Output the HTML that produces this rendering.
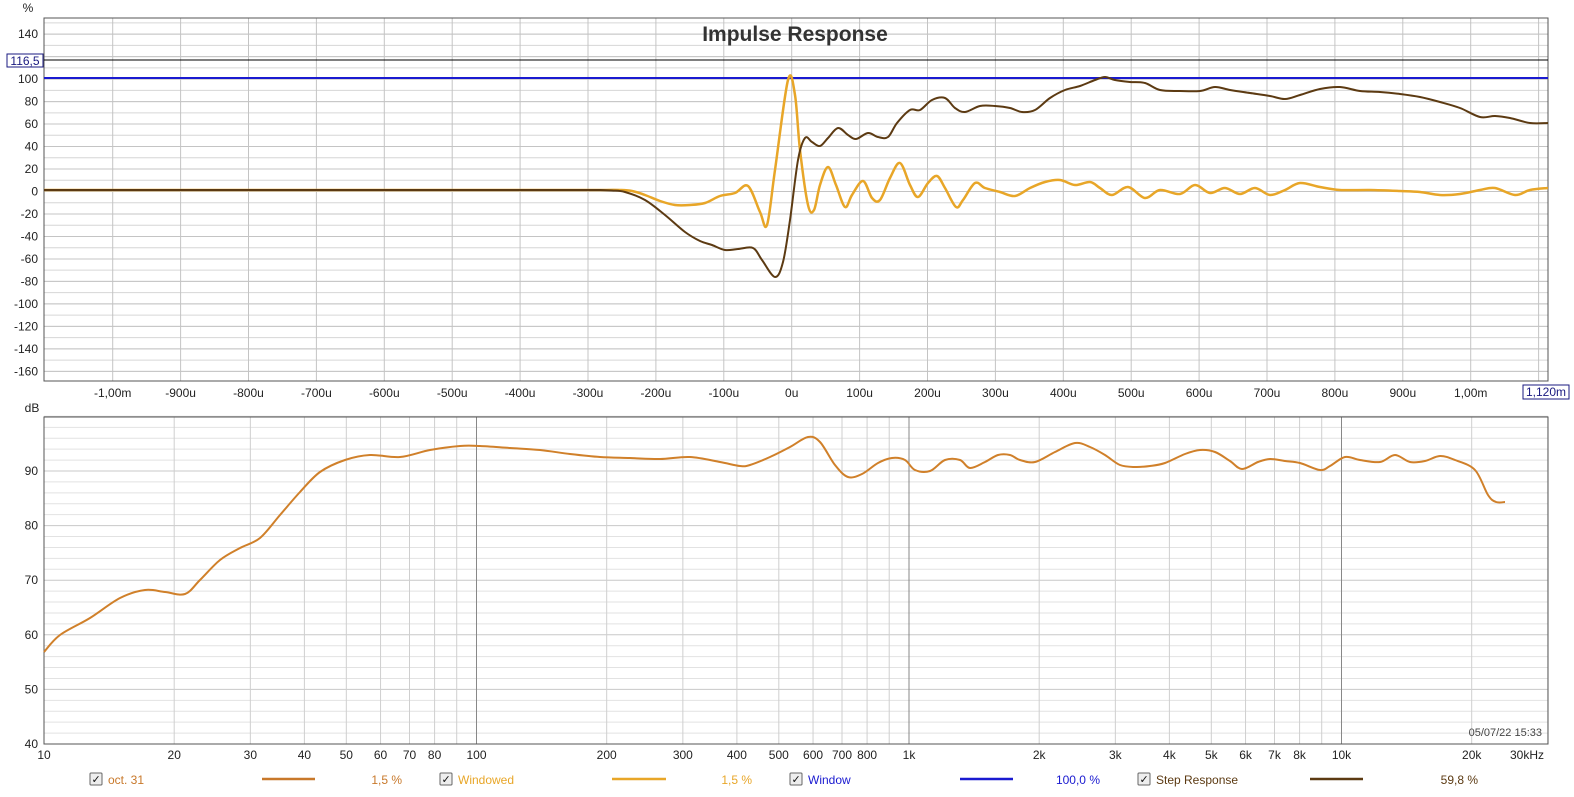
<!DOCTYPE html>
<html><head><meta charset="utf-8"><style>
html,body{margin:0;padding:0;background:#fff;}
svg{display:block;font-family:"Liberation Sans",sans-serif;}
</style></head><body>
<svg id="s" width="1574" height="797" xmlns="http://www.w3.org/2000/svg">
<g id="grid"></g>
<g id="data"></g>
<text x="795" y="41" text-anchor="middle" font-size="21" font-weight="bold" fill="#333">Impulse Response</text>
</svg>
<script>
const NS="http://www.w3.org/2000/svg";
const g=document.getElementById('grid'), d=document.getElementById('data');
function el(p,tag,a,txt){const e=document.createElementNS(NS,tag);for(const k in a)e.setAttribute(k,a[k]);if(txt!==undefined)e.textContent=txt;p.appendChild(e);return e;}
const L=44,R=1548,T1=18,B1=381,T2=417,B2=744;
el(g,'rect',{x:L,y:T1,width:R-L,height:B1-T1,fill:'#fff'});
const yv=v=>191.5-1.124*v;
for(let v=-160;v<=150;v+=10){el(g,'line',{x1:L,x2:R,y1:yv(v),y2:yv(v),stroke:'#d6d6d6','stroke-width':1});}
for(let v=-160;v<=140;v+=20){el(g,'line',{x1:L,x2:R,y1:yv(v),y2:yv(v),stroke:'#c4c4c4','stroke-width':1});
 if(v!=120) el(g,'text',{x:38,y:yv(v)+4,'text-anchor':'end','font-size':12,fill:'#222'},String(v));}
const xt=t=>791.7+0.679*t;
for(let t=-1000;t<=1100;t+=100){el(g,'line',{x1:xt(t),x2:xt(t),y1:T1,y2:B1,stroke:'#c4c4c4'});
 let lab=t==-1000?'-1,00m':t==1000?'1,00m':(t==1100?'':t+'u');
 if(lab) el(g,'text',{x:xt(t),y:397,'text-anchor':'middle','font-size':12,fill:'#222'},lab);}
el(g,'rect',{x:L,y:T1,width:R-L,height:B1-T1,fill:'none',stroke:'#555'});
el(g,'text',{x:28,y:12,'text-anchor':'middle','font-size':12,fill:'#222'},'%');
el(g,'line',{x1:L,x2:R,y1:60,y2:60,stroke:'#000'});
el(g,'line',{x1:L,x2:R,y1:78,y2:78,stroke:'#1a1ad0','stroke-width':2});
el(g,'rect',{x:7,y:54,width:36,height:13,fill:'#fff',stroke:'#1a1a80'});
el(g,'text',{x:25,y:65,'text-anchor':'middle','font-size':12,fill:'#1a1a80'},'116,5');
el(g,'rect',{x:1523,y:385,width:46,height:14,fill:'#fff',stroke:'#1a1a80'});
el(g,'text',{x:1546,y:396,'text-anchor':'middle','font-size':12,fill:'#1a1a80'},'1,120m');
const yd=v=>744-5.46*(v-40);
for(let v=40;v<=100;v+=2){el(g,'line',{x1:L,x2:R,y1:yd(v),y2:yd(v),stroke:v%10==0?'#c8c8c8':'#e2e2e2'});}
for(let v=40;v<=90;v+=10) el(g,'text',{x:38,y:yd(v)+4,'text-anchor':'end','font-size':12,fill:'#222'},String(v));
el(g,'text',{x:32,y:412,'text-anchor':'middle','font-size':12,fill:'#222'},'dB');
const xf=f=>44+432.5*Math.log10(f/10);
for(let dec=10;dec<=10000;dec*=10){for(let m=1;m<10;m++){const f=dec*m;if(f>30000)break;const x=xf(f);
 el(g,'line',{x1:x,x2:x,y1:T2,y2:B2,stroke:m==1?'#888':'#cfcfcf'});}}
const labs=[[10,'10'],[20,'20'],[30,'30'],[40,'40'],[50,'50'],[60,'60'],[70,'70'],[80,'80'],[100,'100'],[200,'200'],[300,'300'],[400,'400'],[500,'500'],[600,'600'],[700,'700'],[800,'800'],[1000,'1k'],[2000,'2k'],[3000,'3k'],[4000,'4k'],[5000,'5k'],[6000,'6k'],[7000,'7k'],[8000,'8k'],[10000,'10k'],[20000,'20k']];
labs.forEach(([f,s])=>el(g,'text',{x:xf(f),y:759,'text-anchor':'middle','font-size':12,fill:'#222'},s));
el(g,'text',{x:1527,y:759,'text-anchor':'middle','font-size':12,fill:'#222'},'30kHz');
el(g,'rect',{x:L,y:T2,width:R-L,height:B2-T2,fill:'none',stroke:'#555'});
el(g,'text',{x:1542,y:736,'text-anchor':'end','font-size':11,fill:'#444'},'05/07/22 15:33');
function path(pts){let s='M'+pts[0][0]+','+pts[0][1];for(let i=0;i<pts.length-1;i++){const p0=pts[i-1]||pts[i],p1=pts[i],p2=pts[i+1],p3=pts[i+2]||p2;
 s+=' C'+(p1[0]+(p2[0]-p0[0])/6)+','+(p1[1]+(p2[1]-p0[1])/6)+' '+(p2[0]-(p3[0]-p1[0])/6)+','+(p2[1]-(p3[1]-p1[1])/6)+' '+p2[0]+','+p2[1];}return s;}
const flat=[];for(let x=44;x<600;x+=20)flat.push([x,190]);
const step=flat.concat([[600,190],[612,190.5],[625,192],[645,200],[665,215],[685,232],[700,241],[712,245],[725,250],[738,249],[753,248],[762,260],[775,277],[783,262],[790,220],[798,160],[805,138],[812,142],[820,146],[828,138],[838,128],[848,135],[856,139],[868,133],[878,137],[888,137],[897,123],[910,110],[920,110],[932,100],[945,98],[955,108],[965,112],[980,106],[995,106],[1010,108],[1022,112],[1035,110],[1050,98],[1065,90],[1080,86],[1095,80],[1105,77],[1115,80],[1130,82],[1145,83],[1160,90],[1180,91],[1200,91],[1215,87],[1230,90],[1250,93],[1270,96],[1285,99],[1300,95],[1320,89],[1340,87],[1360,91],[1380,92],[1400,94],[1420,97],[1440,102],[1460,108],[1480,117],[1495,116],[1510,118],[1530,123],[1548,123]]);
const win=flat.concat([[600,190],[620,190],[632,191],[645,195],[660,201],[675,205],[690,205],[705,203],[720,196],[735,193],[748,186],[760,212],[767,225],[775,170],[788,80],[795,95],[800,150],[808,205],[814,210],[820,185],[828,167],[836,185],[845,207],[852,195],[863,181],[872,198],[880,200],[890,178],[900,163],[910,185],[918,197],[928,183],[937,176],[945,188],[956,207],[963,200],[975,183],[985,188],[1000,192],[1015,196],[1030,188],[1045,182],[1060,180],[1075,185],[1090,182],[1100,188],[1112,195],[1128,187],[1145,198],[1160,190],[1180,194],[1195,185],[1210,193],[1225,188],[1240,194],[1255,188],[1270,195],[1285,190],[1300,183],[1320,187],[1340,190],[1370,190],[1400,191],[1420,192],[1440,195],[1460,194],[1480,190],[1495,188],[1515,195],[1530,190],[1548,188]]);
const oct=[[44,652],[60,635],[90,618],[120,598],[145,590],[165,592],[185,594],[200,580],[220,560],[240,548],[260,538],[280,515],[300,492],[320,472],[345,460],[370,455],[400,457],[430,450],[460,446],[480,446],[510,448],[540,450],[570,454],[600,457],[630,458],[660,459],[690,457],[720,462],[740,466],[750,465],[770,457],[790,447],[808,437],[820,442],[835,465],[848,477],[862,474],[878,463],[892,458],[905,460],[915,470],[930,471],[945,460],[960,460],[970,468],[985,462],[998,455],[1010,455],[1020,460],[1035,462],[1055,452],[1075,443],[1090,447],[1105,455],[1120,465],[1135,467],[1150,466],[1165,463],[1185,454],[1200,450],[1215,452],[1230,461],[1242,469],[1258,462],[1270,459],[1285,461],[1300,463],[1320,470],[1330,466],[1345,457],[1360,460],[1380,462],[1395,455],[1410,462],[1425,461],[1440,456],[1455,460],[1475,470],[1488,495],[1496,502],[1505,502]];
el(d,'path',{d:path(win),fill:'none',stroke:'#E8A628','stroke-width':2.5});
el(d,'path',{d:path(step),fill:'none',stroke:'#5C3A12','stroke-width':2});
el(d,'path',{d:path(oct),fill:'none',stroke:'#D0802A','stroke-width':2});
const leg=[[90,'oct. 31','#C8782A',262,315,'1,5 %',402],[440,'Windowed','#E8A628',612,666,'1,5 %',752],[790,'Window','#1a1ad0',960,1013,'100,0 %',1100],[1138,'Step Response','#5C3A12',1310,1363,'59,8 %',1478]];
leg.forEach(([cx,name,col,l1,l2,pc,px])=>{
 el(d,'rect',{x:cx,y:773,width:12,height:12,fill:'#eee',stroke:'#666',rx:1});
 el(d,'text',{x:cx+1.5,y:783,'font-size':11,fill:'#111'},'✓');
 el(d,'text',{x:cx+18,y:784,'font-size':12,fill:col},name);
 el(d,'line',{x1:l1,x2:l2,y1:779,y2:779,stroke:col,'stroke-width':2.5});
 el(d,'text',{x:px,y:784,'font-size':12,fill:col,'text-anchor':'end'},pc);
});
</script>
</body></html>
